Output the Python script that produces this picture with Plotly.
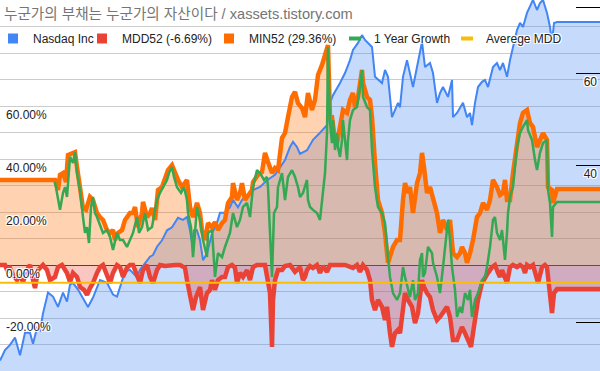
import plotly.graph_objects as go

# ---------------- data ----------------
T_RANGE = [0, 600]  # time index span of the chart

nasdaq_t = [0, 5, 10, 15, 20, 25, 30, 33, 37, 40, 43, 48, 53, 58, 63, 67, 70, 73, 78, 83, 88, 93, 97,
            100, 107, 113, 117, 120, 125, 130, 133, 137, 140, 145, 150, 153, 157, 162, 167, 172, 175, 178,
            183, 187, 190, 192, 194, 197, 200, 203, 207, 212, 217, 220, 225, 230, 233, 238, 242, 247, 253,
            260, 267, 275, 280, 285, 290, 293, 297, 300, 307, 313, 320, 327, 330, 333, 340, 345, 350, 353,
            358, 362, 365, 368, 372, 375, 378, 382, 385, 388, 392, 395, 398, 400, 403, 407, 410, 413, 417,
            420, 422, 425, 430, 433, 437, 440, 443, 448, 452, 453, 457, 463, 467, 470, 472, 475, 478, 482,
            485, 488, 493, 497, 500, 503, 507, 510, 513, 517, 520, 523, 527, 530, 533, 537, 540, 543, 547,
            550, 552, 554, 557, 600]
nasdaq_price = [16.9, 17.7, 18.1, 18.7, 17.3, 19.1, 19.1, 18.2, 19.5, 19.3, 20.8, 22.8, 22.4, 21.4, 22.8,
                21.9, 23.6, 23.8, 23.1, 22.3, 21.4, 22.3, 23.4,
                24.1, 23.8, 22.6, 22.4, 23.4, 25.0, 25.2, 24.9, 24.4, 25.2, 26.0, 26.7, 26.9, 27.9, 28.7,
                30.0, 30.4, 31.0, 31.7, 31.4, 31.8, 30.0, 28.4, 30.0, 30.0, 28.7, 26.3, 27.1, 29.6, 31.0,
                32.4, 32.4, 33.2, 34.3, 33.2, 34.3, 35.0, 35.8, 36.3, 37.4, 38.3, 39.6, 40.9, 43.3, 44.3,
                43.3, 42.0, 42.7, 44.7, 46.1, 47.7, 52.6, 54.4, 57.4, 60.0, 63.5, 66.4, 68.5, 70.9, 69.4,
                68.5, 67.3, 59.0, 58.2, 57.4, 60.8, 59.0, 49.4, 51.0, 52.6, 51.6, 59.0, 63.5, 60.0, 56.4,
                61.6, 66.4, 68.8, 61.6, 62.7, 60.0, 52.6, 54.9, 56.4, 54.0, 58.2, 49.4, 50.3, 52.6, 49.4,
                50.3, 47.7, 52.6, 56.4, 57.7, 58.2, 56.4, 61.6, 62.7, 60.8, 62.7, 59.0, 63.5, 67.3, 72.5,
                74.8, 73.5, 78.2, 80.3, 82.8, 79.2, 81.7, 82.8, 78.2, 73.5, 68.5, 74.8, 75.1, 75.1]

mdd_t = [0, 5, 7, 10, 13, 17, 20, 23, 27, 30, 33, 35, 38, 43, 47, 50, 55, 58, 62, 67, 70, 73, 77, 80, 84,
         87, 90, 93, 97, 100, 103, 107, 110, 113, 117, 120, 123, 127, 130, 133, 137, 140, 143, 147, 150,
         153, 157, 160, 165, 170, 175, 180, 185, 187, 190, 193, 196, 200, 203, 205, 207, 210, 212, 215,
         218, 222, 225, 228, 232, 235, 237, 240, 243, 247, 250, 253, 257, 265, 268, 270, 272, 273, 275,
         278, 282, 285, 290, 295, 300, 302, 303, 305, 307, 310, 313, 317, 320, 323, 327, 330, 335, 340,
         345, 353, 357, 360, 363, 367, 370, 372, 375, 378, 382, 385, 387, 390, 392, 395, 398, 400, 403,
         405, 408, 412, 415, 418, 422, 424, 427, 430, 433, 437, 440, 443, 447, 450, 453, 457, 460, 462,
         465, 468, 471, 473, 475, 478, 482, 485, 488, 492, 495, 498, 500, 502, 505, 507, 510, 513, 517,
         520, 523, 525, 527, 530, 533, 537, 538, 542, 545, 547, 549, 551, 552, 554, 557, 600]
mdd_pct = [0, 0, -1.9, -1.1, -3.8, -5.7, -3.8, -6.4, -1.9, 0, -5.7, -8.7, -1.9, 0, -1.9, -5.7, -4.5, -0.8,
           0, -3.0, -6.4, -3.0, -4.5, -8.3, -9.4, -11.3, -8.7, -6.8, -3.0, -0.8, 0, -4.5, -6.8, -3.0, 0,
           -0.8, -4.5, -1.1, 0, 0, -4.5, -6.8, -1.9, 0, -4.5, -6.8, -1.9, 0, -0.4, 0, 0, 0, -1.1, -5.7,
           -10.6, -17.0, -12.1, -8.3, -17.0, -13.2, -10.6, -9.4, -5.7, -9.4, -5.7, -4.5, -4.5, -0.8, 0,
           -1.1, -6.8, -3.0, -4.5, -1.9, -5.7, -0.8, 0, 0, -5.7, -10.6, -30.9, -13.2, -5.7, -1.9, -1.9,
           -0.4, 0, -2.6, -0.8, -4.5, -5.7, -4.5, -1.9, -0.4, -1.1, 0, -3.0, -0.4, -2.6, 0, 0, 0, 0, -1.1,
           0, -2.6, 0, -1.9, -5.7, -13.2, -17.0, -13.2, -15.8, -20.8, -15.8, -25.7, -30.9, -25.7, -24.5,
           -25.7, -17.0, -10.6, -13.2, -15.8, -21.9, -18.1, -5.7, -8.3, -10.6, -12.1, -17.0, -20.8, -19.6,
           -18.1, -15.8, -19.6, -28.3, -28.3, -25.7, -23.4, -25.7, -28.3, -30.9, -25.7, -19.6, -13.2,
           -6.8, -4.5, -3.0, -0.8, 0, -3.0, -4.5, -1.9, -4.5, -6.8, -0.8, 0, -0.8, 0, -0.8, -3.0, 0, -0.8,
           0, -4.5, -6.8, -0.8, 0, -0.8, -8.3, -13.2, -18.1, -10.6, -9.1, -9.1]

min_t = [0, 55, 58, 60, 63, 66, 68, 72, 75, 77, 80, 83, 86, 90, 93, 97, 100, 103, 107, 110, 113, 115, 118,
         122, 125, 130, 133, 135, 138, 142, 143, 147, 150, 152, 155, 158, 162, 165, 168, 172, 175, 178,
         182, 185, 187, 190, 193, 197, 200, 202, 205, 208, 212, 215, 218, 222, 225, 228, 232, 233, 237,
         240, 242, 245, 248, 252, 253, 258, 262, 263, 265, 268, 272, 275, 278, 282, 285, 288, 292, 295,
         298, 302, 305, 308, 312, 315, 318, 322, 325, 327, 328, 330, 332, 335, 337, 340, 343, 347, 350,
         353, 355, 358, 362, 363, 367, 370, 372, 375, 378, 382, 385, 388, 390, 393, 397, 400, 403, 405,
         408, 410, 413, 417, 420, 422, 424, 427, 430, 433, 437, 440, 443, 447, 450, 453, 457, 460, 462,
         465, 467, 470, 473, 477, 480, 483, 487, 490, 493, 497, 500, 503, 505, 507, 510, 513, 517, 520,
         523, 527, 530, 533, 537, 540, 543, 547, 548, 552, 553, 557, 600]
min_pct = [32.1, 32.1, 28.3, 34.0, 34.7, 31.3, 41.5, 42.3, 42.6, 37.0, 29.4, 21.5, 20.8, 25.7, 24.5, 19.6,
           18.1, 17.0, 13.2, 12.1, 13.2, 9.4, 12.1, 13.2, 17.0, 19.6, 19.6, 21.9, 14.3, 19.6, 23.8, 18.1,
           19.6, 21.5, 17.0, 28.3, 29.4, 33.2, 35.8, 37.7, 34.7, 32.1, 29.4, 31.3, 32.1, 21.9, 18.1, 23.4,
           19.6, 13.2, 9.4, 15.8, 14.3, 16.2, 13.2, 15.8, 17.0, 23.4, 25.7, 30.9, 24.5, 27.2, 30.9, 24.5,
           26.4, 28.3, 31.3, 34.0, 35.1, 37.7, 42.3, 38.9, 34.7, 36.6, 35.8, 47.9, 49.8, 55.8, 63.4, 65.3,
           61.1, 59.2, 55.8, 64.9, 58.5, 62.3, 71.7, 75.5, 79.2, 81.1, 83.0, 55.8, 55.8, 47.2, 46.0, 52.1,
           58.5, 57.4, 62.3, 64.9, 59.6, 63.4, 73.6, 68.7, 63.4, 62.3, 55.8, 38.5, 24.5, 19.6, 12.1, 0.8,
           3.0, 6.8, 9.4, 9.4, 24.5, 30.9, 27.2, 29.4, 19.6, 30.9, 34.7, 42.3, 37.0, 27.2, 29.4, 24.5, 19.6,
           12.1, 17.0, 13.2, 17.0, 4.5, 3.0, 4.5, 6.8, 4.5, 0.8, 4.5, 9.4, 18.1, 19.6, 23.4, 20.8, 24.5,
           32.1, 29.4, 26.4, 27.2, 32.1, 24.5, 24.5, 34.7, 47.2, 53.6, 57.4, 58.5, 53.6, 52.1, 44.5, 47.2,
           49.8, 47.2, 29.4, 28.3, 23.4, 28.7, 28.7]

growth_t = [55, 58, 60, 63, 65, 67, 68, 70, 73, 75, 77, 80, 83, 85, 87, 89, 91, 93, 95, 97, 100, 103, 107,
            110, 113, 117, 120, 123, 127, 130, 133, 137, 139, 142, 145, 148, 152, 155, 157, 160, 163, 167,
            169, 172, 174, 177, 181, 184, 187, 188, 191, 193, 195, 197, 200, 203, 207, 208, 212, 215, 218,
            222, 225, 230, 233, 237, 240, 243, 247, 250, 253, 257, 260, 264, 267, 268, 270, 272, 274, 277,
            278, 282, 285, 288, 292, 295, 298, 300, 303, 307, 308, 310, 313, 317, 320, 322, 323, 325, 327,
            328, 330, 332, 333, 335, 337, 338, 340, 342, 343, 347, 348, 350, 353, 357, 360, 362, 363, 367,
            370, 372, 375, 378, 382, 385, 388, 390, 393, 397, 400, 403, 405, 408, 410, 413, 415, 418, 420,
            422, 423, 425, 428, 432, 433, 437, 440, 443, 447, 448, 450, 452, 455, 457, 460, 462, 465, 468,
            470, 472, 475, 478, 482, 485, 487, 490, 493, 495, 497, 500, 502, 505, 507, 508, 510, 513, 517,
            520, 523, 527, 528, 532, 535, 537, 540, 543, 547, 548, 550, 552, 553, 557, 600]
growth_pct = [31.3, 24.5, 20.8, 27.2, 29.4, 25.7, 32.1, 40.8, 38.5, 42.6, 34.7, 28.3, 18.1, 12.1, 14.3, 8.3,
              21.9, 25.7, 19.6, 18.1, 15.1, 12.1, 13.2, 10.6, 5.7, 12.1, 9.4, 9.4, 6.8, 9.4, 12.1, 18.1,
              12.1, 14.3, 19.6, 13.2, 14.3, 20.8, 24.5, 27.2, 29.4, 32.1, 34.7, 37.0, 33.2, 29.4, 27.2,
              29.4, 24.5, 19.6, 14.3, 3.0, 12.1, 21.9, 17.0, 9.4, 3.0, 12.1, 13.2, -4.5, 4.5, 3.0, 6.8,
              12.1, 19.6, 14.3, 17.0, 21.9, 23.4, 18.1, 29.4, 35.8, 34.7, 32.1, 33.2, 29.4, 12.1, -4.5,
              19.6, 21.9, 29.4, 34.7, 24.5, 33.2, 35.8, 33.2, 29.4, 25.7, 27.2, 32.1, 24.5, 21.9, 20.8,
              19.6, 17.0, 24.5, 29.4, 34.7, 49.8, 82.3, 53.6, 46.0, 54.7, 43.4, 49.8, 44.5, 40.8, 47.2,
              54.7, 39.6, 47.2, 54.7, 58.5, 59.6, 67.2, 73.6, 63.4, 59.6, 58.5, 43.4, 29.4, 21.9, 19.6,
              15.8, 3.0, -4.5, -10.6, -13.2, -10.6, -0.8, -4.5, -9.4, -12.1, -5.7, -13.2, -10.6, 1.9, 4.5,
              -4.5, -3.0, 6.8, 4.5, 0.8, -4.5, -10.6, -0.8, 12.1, 17.0, 9.4, -0.8, -9.4, -19.6, -15.8,
              -18.1, -10.6, -13.2, -9.4, -19.6, -13.2, -10.6, -5.7, -4.5, -0.8, 6.8, 17.0, 18.1, 12.1, 9.4,
              13.2, 1.9, 12.1, 19.6, 25.7, 29.4, 44.5, 49.8, 52.1, 54.7, 50.9, 47.2, 39.6, 35.8, 42.3, 46.0,
              47.2, 28.3, 23.4, 10.6, 21.9, 23.8, 23.8]

avg_mdd_pct = -6.69

names = ["Nasdaq Inc", "MDD52 (-6.69%)", "MIN52 (29.36%)", "1 Year Growth", "Averege MDD"]
colors = ["#4285F4", "#EA4335", "#FF6D01", "#34A853", "#FBBC04"]
fills = ["rgba(66,133,244,0.3)", "rgba(234,67,53,0.3)", "rgba(255,109,1,0.3)"]
left_ticks = [-20, 0, 20, 40, 60]
left_ticktext = ["-20.00%", "0.00%", "20.00%", "40.00%", "60.00%"]
right_ticks = [20, 40, 60, 80]
right_ticktext = ["", "40", "60", ""]
title_text = "누군가의 부채는 누군가의 자산이다 / xassets.tistory.com"

FONT = "Arial, 'Liberation Sans', 'Noto Sans CJK KR', sans-serif"
HALO = "1px 1px 0 #fff, -1px -1px 0 #fff, 1px -1px 0 #fff, -1px 1px 0 #fff"
PCT_RANGE = [-40, 100]
LOG_RANGE = [1.20777, 1.91787]

fig = go.Figure()
# layer 1: price area fill (log axis y)
fig.add_trace(go.Scatter(x=nasdaq_t, y=nasdaq_price, mode="lines", yaxis="y",
                         line=dict(color=colors[0], width=0), fill="tozeroy", fillcolor=fills[0],
                         showlegend=False, hoverinfo="skip"))
# layer 2: percent area fills (y2, carries the gridlines)
fig.add_trace(go.Scatter(x=mdd_t, y=mdd_pct, mode="lines", yaxis="y2",
                         line=dict(color=colors[1], width=0), fill="tozeroy", fillcolor=fills[1],
                         showlegend=False, hoverinfo="skip"))
fig.add_trace(go.Scatter(x=min_t, y=min_pct, mode="lines", yaxis="y2",
                         line=dict(color=colors[2], width=0), fill="tozeroy", fillcolor=fills[2],
                         showlegend=False, hoverinfo="skip"))
# layer 3: price line (y3, same log scale)
fig.add_trace(go.Scatter(x=nasdaq_t, y=nasdaq_price, mode="lines", yaxis="y3",
                         line=dict(color=colors[0], width=2), showlegend=False, hoverinfo="skip"))
# layer 4: percent lines (y4, same percent scale)
fig.add_trace(go.Scatter(x=mdd_t, y=mdd_pct, mode="lines", yaxis="y4",
                         line=dict(color=colors[1], width=4.5), showlegend=False, hoverinfo="skip"))
fig.add_trace(go.Scatter(x=min_t, y=min_pct, mode="lines", yaxis="y4",
                         line=dict(color=colors[2], width=4.5), showlegend=False, hoverinfo="skip"))
fig.add_trace(go.Scatter(x=growth_t, y=growth_pct, mode="lines", yaxis="y4",
                         line=dict(color=colors[3], width=2.5), showlegend=False, hoverinfo="skip"))
fig.add_trace(go.Scatter(x=T_RANGE, y=[avg_mdd_pct, avg_mdd_pct], mode="lines", yaxis="y4",
                         line=dict(color=colors[4], width=2), showlegend=False, hoverinfo="skip"))

# legend entries (one legend box per entry, placed like the reference)
legend_x_px = [8, 97, 224, 349, 461]
for i, (nm, c) in enumerate(zip(names, colors)):
    lg = "legend" if i == 0 else f"legend{i+1}"
    if i < 3:
        mk = dict(symbol="square", size=10, color=c, line=dict(width=0))
    else:
        mk = dict(symbol="line-ew", size=10, color=c, line=dict(color=c, width=4))
    fig.add_trace(go.Scatter(x=[None], y=[None], mode="markers", marker=mk, name=nm,
                             legend=lg, yaxis="y4", showlegend=True))

legend_common = dict(orientation="h", yanchor="middle", y=1 - 38.5 / 371, xanchor="left",
                     bgcolor="rgba(0,0,0,0)", borderwidth=0, indentation=-15,
                     font=dict(family=FONT, size=12, color="#222222", shadow=HALO))
layout_legends = {}
for i, xp in enumerate(legend_x_px):
    key = "legend" if i == 0 else f"legend{i+1}"
    layout_legends[key] = dict(legend_common, x=xp / 600)

hidden = dict(showgrid=False, zeroline=False, showticklabels=False, ticks="", showline=False)

fig.update_layout(
    width=600, height=371,
    margin=dict(l=0, r=0, t=0, b=0, autoexpand=False),
    paper_bgcolor="white", plot_bgcolor="white",
    title=dict(text=title_text, x=4 / 600, xanchor="left", y=1 - 13.5 / 371, yanchor="middle",
               font=dict(family=FONT, size=14.6, color="#757575")),
    xaxis=dict(range=T_RANGE, visible=False, showgrid=False, zeroline=False),
    yaxis=dict(type="log", side="right", range=LOG_RANGE,
               tickvals=right_ticks, ticktext=right_ticktext,
               ticks="inside", ticklen=24, tickwidth=1, tickcolor="#000000",
               ticklabelposition="inside bottom", showgrid=False, zeroline=False, showline=False,
               tickfont=dict(family=FONT, size=12, color="#222222", shadow=HALO)),
    yaxis2=dict(overlaying="y", side="left", range=PCT_RANGE,
                tickvals=left_ticks, ticktext=left_ticktext,
                ticklabelposition="inside bottom", ticks="", ticklabelstandoff=3,
                showgrid=True, gridcolor="#cccccc", gridwidth=1,
                minor=dict(dtick=10, tick0=0, showgrid=True, gridcolor="#cccccc", gridwidth=1),
                zeroline=True, zerolinecolor="#333333", zerolinewidth=1, showline=False,
                tickfont=dict(family=FONT, size=12, color="#222222", shadow=HALO)),
    yaxis3=dict(overlaying="y", side="right", type="log", range=LOG_RANGE, **hidden),
    yaxis4=dict(overlaying="y", side="left", range=PCT_RANGE, **hidden),
    **layout_legends,
)

fig.write_html("out.html", config={"displayModeBar": False},
               post_script="document.body.style.margin='0';document.body.style.padding='0';")
